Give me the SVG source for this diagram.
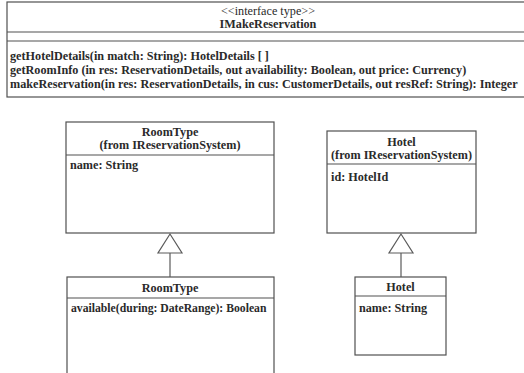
<svg xmlns="http://www.w3.org/2000/svg" width="524" height="373" viewBox="0 0 524 373">
  <style>
    .box { fill: #ffffff; stroke: #505050; stroke-width: 1.2; }
    .sep { stroke: #505050; stroke-width: 1.2; }
    .t { font-family: "Liberation Serif", "Times New Roman", serif; font-size: 12.2px; fill: #2a2a2a; font-weight: bold; }
    .sm { font-size: 11.7px; }
    .reg { font-weight: normal; }
    .mid { text-anchor: middle; }
    .edge { fill: none; stroke: #5a5a5a; stroke-width: 1.2; }
    .gen { fill: #ffffff; stroke: #5a5a5a; stroke-width: 1.2; }
  </style>
  <rect width="524" height="373" fill="#ffffff"/>

  <!-- interface: IMakeReservation -->
  <g id="IMakeReservation">
    <rect class="box" x="7" y="2" width="530" height="95"/>
    <line class="sep" x1="7" y1="32" x2="524" y2="32"/>
    <line class="sep" x1="7" y1="41" x2="524" y2="41"/>
    <text class="t reg mid" x="268" y="15">&lt;&lt;interface type&gt;&gt;</text>
    <text class="t mid" x="268" y="28">IMakeReservation</text>
    <text class="t" x="10" y="60">getHotelDetails(in match: String): HotelDetails [ ]</text>
    <text class="t" x="10" y="74">getRoomInfo (in res: ReservationDetails, out availability: Boolean, out price: Currency)</text>
    <text class="t" x="10" y="88">makeReservation(in res: ReservationDetails, in cus: CustomerDetails, out resRef: String): Integer</text>
  </g>

  <!-- RoomType from IReservationSystem -->
  <g id="RoomTypeBase">
    <rect class="box" x="66" y="122" width="208" height="111"/>
    <line class="sep" x1="66" y1="155" x2="274" y2="155"/>
    <text class="t mid" x="170" y="136">RoomType</text>
    <text class="t mid" x="170" y="149">(from  IReservationSystem)</text>
    <text class="t" x="70" y="169">name: String</text>
  </g>

  <!-- Hotel from IReservationSystem -->
  <g id="HotelBase">
    <rect class="box" x="327" y="131" width="149" height="102"/>
    <line class="sep" x1="327" y1="164" x2="476" y2="164"/>
    <text class="t mid" x="401.5" y="146">Hotel</text>
    <text class="t mid" x="401.5" y="159">(from  IReservationSystem)</text>
    <text class="t" x="331" y="181">id: HotelId</text>
  </g>

  <!-- RoomType specialisation -->
  <g id="RoomType">
    <rect class="box" x="67" y="277" width="207" height="110"/>
    <line class="sep" x1="67" y1="298" x2="274" y2="298"/>
    <text class="t mid" x="170" y="292">RoomType</text>
    <text class="t sm" x="71" y="312">available(during: DateRange): Boolean</text>
  </g>

  <!-- Hotel specialisation -->
  <g id="Hotel">
    <rect class="box" x="355" y="277" width="91" height="78"/>
    <line class="sep" x1="355" y1="296" x2="446" y2="296"/>
    <text class="t mid" x="400.5" y="291">Hotel</text>
    <text class="t" x="359" y="312">name: String</text>
  </g>

  <!-- generalisation connectors -->
  <g id="connectors">
    <line class="edge" x1="170" y1="253" x2="170" y2="277"/>
    <polygon class="gen" points="170,234 158,253 182,253"/>
    <line class="edge" x1="401" y1="253" x2="401" y2="277"/>
    <polygon class="gen" points="401,234 389,253 413,253"/>
  </g>
</svg>
